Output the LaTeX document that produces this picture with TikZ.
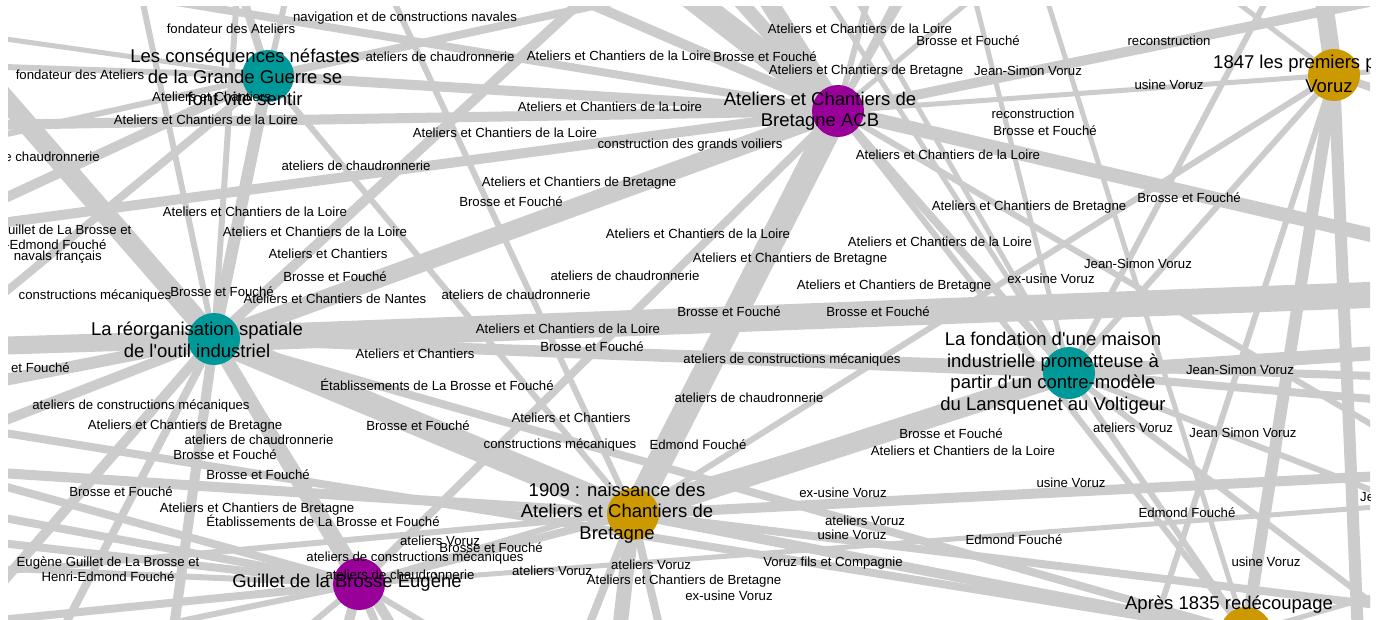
\documentclass[tikz,border=0pt]{standalone}
\usepackage{fontspec}
\setmainfont{Liberation Sans}
\definecolor{edgegrey}{HTML}{CCCCCC}
\definecolor{tealc}{HTML}{009999}
\definecolor{purpc}{HTML}{990099}
\definecolor{goldc}{HTML}{CC9900}
\newcommand{\apo}{\textquotesingle}
\begin{document}
\begin{tikzpicture}[x=1pt,y=-1pt,
  hub/.style={circle, minimum size=52pt, inner sep=0pt, draw=none},
  lnk/.style={draw=edgegrey, line width=#1},
  lbl/.style={font=\fontsize{13.2}{15.5}\selectfont, inner sep=0pt, align=center, text=black},
  big/.style={font=\fontsize{18.5}{21.5}\selectfont, inner sep=0pt, align=center, text=black}]
\useasboundingbox (0,0) rectangle (1381,619);
\fill[white] (0,0) rectangle (1381,619);
\begin{scope}
\clip (8,6) rectangle (1370,619);
% hub centres
\coordinate (c1) at (268,76);
\coordinate (c2) at (838,111);
\coordinate (c3) at (1334,75);
\coordinate (c4) at (214,339);
\coordinate (c5) at (1069,373);
\coordinate (c6) at (633,514);
\coordinate (c7) at (359,584);
\coordinate (c8) at (1246,633);
% off-screen ends
\coordinate (oA) at (-200,-137);
\coordinate (oB) at (1500,290);
\coordinate (oC) at (-200,352);
\coordinate (oD) at (-200,128);
\coordinate (oE) at (1500,265);
\coordinate (oF) at (1500,-25);
\coordinate (oG) at (500,-150);
\coordinate (oH) at (640,-200);
\coordinate (oI) at (350,-100);
\coordinate (oJ) at (900,-120);
\coordinate (oK) at (960,-100);
\coordinate (oL) at (-200,60);
\coordinate (oM) at (180,-200);
\coordinate (oN) at (-150,270);
\coordinate (oO) at (-150,420);
\coordinate (oP) at (1310,-100);
\coordinate (oQ) at (1500,60);
\coordinate (oR) at (1365,800);
\coordinate (oS) at (1130,700);
\coordinate (oT) at (1277,-20);
\coordinate (oU) at (1500,345);
\coordinate (oV) at (1500,410);
\coordinate (oW) at (800,-100);
\coordinate (oX) at (-100,700);
\coordinate (oY) at (600,800);
\coordinate (oZ) at (-200,460);
\coordinate (pA) at (1500,470);
\coordinate (pB) at (300,-200);
\coordinate (pC) at (-200,430);
\coordinate (pD) at (-200,520);
\coordinate (pE) at (-200,640);
\coordinate (pF) at (300,800);
\coordinate (pG) at (450,800);
\coordinate (pH) at (1600,490);
\coordinate (pI) at (-200,400);
\coordinate (pJ) at (1500,560);
\coordinate (qA) at (-200,10);
\coordinate (qB) at (200,-150);
\coordinate (qC) at (320,-150);
\coordinate (qD) at (900,-60);
\coordinate (qE) at (-200,250);
\coordinate (qF) at (-200,-60);
\coordinate (qG) at (-200,420);
\coordinate (qH) at (-200,500);
\coordinate (qI) at (0,750);
\coordinate (qJ) at (150,800);
\coordinate (qK) at (500,800);
\coordinate (qL) at (100,-200);
\coordinate (qM) at (250,-200);
\coordinate (qN) at (800,-200);
\coordinate (qO) at (1500,620);
\coordinate (qP) at (700,800);
\coordinate (qQ) at (520,800);
\coordinate (qR) at (-200,480);
\coordinate (qS) at (720,800);
\coordinate (qT) at (1000,-150);
\coordinate (qU) at (1500,130);
\coordinate (qV) at (950,-100);
\coordinate (qW) at (1500,380);
\coordinate (qX) at (1100,-100);
\coordinate (qY) at (1500,700);
\coordinate (qZ) at (-200,560);
\coordinate (rA) at (560,-200);
\coordinate (rB) at (1000,-200);
\coordinate (rC) at (1150,-150);
\coordinate (rD) at (1500,500);
\coordinate (rE) at (700,-200);
\coordinate (rF) at (-200,700);
\coordinate (rG) at (100,800);
\coordinate (rH) at (-200,180);
\coordinate (rI) at (-200,590);
\coordinate (rJ) at (1500,540);
% edges
\draw[lnk=20] (c4) -- (oA);
\draw[lnk=26] (c4) -- (oB);
\draw[lnk=18] (c4) -- (oC);
\draw[lnk=25] (c2) -- (c6);
\draw[lnk=10] (c2) -- (oD);
\draw[lnk=14] (c2) -- (oE);
\draw[lnk=10] (c2) -- (oF);
\draw[lnk=24] (c2) -- (oG);
\draw[lnk=18] (c2) -- (oH);
\draw[lnk=14] (c2) -- (rA);
\draw[lnk=10] (c2) -- (oI);
\draw[lnk=6] (c2) -- (oJ);
\draw[lnk=6] (c2) -- (oK);
\draw[lnk=6] (c2) -- (rB);
\draw[lnk=5] (c2) -- (rC);
\draw[lnk=6] (c2) -- (rD);
\draw[lnk=10] (c2) -- (c1);
\draw[lnk=5] (c2) -- (c3);
\draw[lnk=18] (c2) -- (c4);
\draw[lnk=8] (c2) -- (c7);
\draw[lnk=8] (c2) -- (c5);
\draw[lnk=6] (c2) -- (c8);
\draw[lnk=10] (c2) -- (qE);
\draw[lnk=8] (c2) -- (qF);
\draw[lnk=6] (c1) -- (oL);
\draw[lnk=5] (c1) -- (qA);
\draw[lnk=6] (c1) -- (rH);
\draw[lnk=8] (c1) -- (oM);
\draw[lnk=6] (c1) -- (qB);
\draw[lnk=6] (c1) -- (qC);
\draw[lnk=8] (c1) -- (qD);
\draw[lnk=12] (c1) -- (c4);
\draw[lnk=6] (c1) -- (c6);
\draw[lnk=10] (c1) -- (oN);
\draw[lnk=8] (c1) -- (oO);
\draw[lnk=12] (c3) -- (c8);
\draw[lnk=18] (c3) -- (oP);
\draw[lnk=5] (c3) -- (oQ);
\draw[lnk=12] (c3) -- (oR);
\draw[lnk=6] (c3) -- (oS);
\draw[lnk=6] (c3) -- (c5);
\draw[lnk=8] (c3) -- (qU);
\draw[lnk=6] (c3) -- (c6);
\draw[lnk=5] (c3) -- (qX);
\draw[lnk=6] (c5) -- (oT);
\draw[lnk=14] (c5) -- (oU);
\draw[lnk=8] (c5) -- (oV);
\draw[lnk=5] (c5) -- (oW);
\draw[lnk=5] (c5) -- (qV);
\draw[lnk=5] (c5) -- (rE);
\draw[lnk=6] (c5) -- (rJ);
\draw[lnk=10] (c5) -- (c4);
\draw[lnk=20] (c5) -- (c6);
\draw[lnk=6] (c5) -- (c8);
\draw[lnk=6] (c5) -- (c7);
\draw[lnk=6] (c5) -- (qY);
\draw[lnk=24] (c6) -- (c4);
\draw[lnk=8] (c6) -- (c7);
\draw[lnk=10] (c6) -- (c8);
\draw[lnk=15] (c6) -- (oY);
\draw[lnk=10] (c6) -- (oZ);
\draw[lnk=6] (c6) -- (rI);
\draw[lnk=10] (c6) -- (pA);
\draw[lnk=8] (c6) -- (qO);
\draw[lnk=6] (c6) -- (pB);
\draw[lnk=8] (c6) -- (qP);
\draw[lnk=8] (c6) -- (qQ);
\draw[lnk=14] (c7) -- (c4);
\draw[lnk=8] (c7) -- (pC);
\draw[lnk=8] (c7) -- (pD);
\draw[lnk=8] (c7) -- (pE);
\draw[lnk=8] (c7) -- (qR);
\draw[lnk=6] (c7) -- (rF);
\draw[lnk=6] (c7) -- (rG);
\draw[lnk=10] (c7) -- (pF);
\draw[lnk=8] (c7) -- (pG);
\draw[lnk=5] (c7) -- (pH);
\draw[lnk=6] (c7) -- (qS);
\draw[lnk=6] (c7) -- (qZ);
\draw[lnk=8] (c8) -- (pI);
\draw[lnk=5] (c8) -- (pJ);
\draw[lnk=5] (c8) -- (qT);
\draw[lnk=8] (c8) -- (c4);
\draw[lnk=10] (c4) -- (oX);
\draw[lnk=12] (c4) -- (qG);
\draw[lnk=10] (c4) -- (qH);
\draw[lnk=8] (c4) -- (qI);
\draw[lnk=10] (c4) -- (qJ);
\draw[lnk=10] (c4) -- (qK);
\draw[lnk=6] (c4) -- (qL);
\draw[lnk=6] (c4) -- (qM);
\draw[lnk=10] (c4) -- (qN);
\draw[lnk=8] (c4) -- (qW);
% hubs
\node[hub, fill=tealc] (n1) at (c1) {};
\node[hub, fill=purpc] (n2) at (c2) {};
\node[hub, fill=goldc] (n3) at (c3) {};
\node[hub, fill=tealc] (n4) at (c4) {};
\node[hub, fill=tealc] (n5) at (c5) {};
\node[hub, fill=goldc] (n6) at (c6) {};
\node[hub, fill=purpc] (n7) at (c7) {};
\node[hub, fill=goldc] (n8) at (c8) {};
% edge labels
\node[lbl] (l1) at (231,29) {fondateur des Ateliers};
\node[lbl] (l2) at (405,18) {navigation et de constructions navales};
\node[lbl] (l3) at (860,29) {Ateliers et Chantiers de la Loire};
\node[lbl] (l4) at (968,41) {Brosse et Fouché};
\node[lbl] (l5) at (1169,41) {reconstruction};
\node[lbl] (l6) at (440,57) {ateliers de chaudronnerie};
\node[lbl] (l7) at (619,56) {Ateliers et Chantiers de la Loire};
\node[lbl] (l8) at (765,57) {Brosse et Fouché};
\node[lbl] (l9) at (866,71) {Ateliers et Chantiers de Bretagne};
\node[lbl] (l10) at (1028,71) {Jean-Simon Voruz};
\node[lbl] (l11) at (80,75) {fondateur des Ateliers};
\node[lbl] (l12) at (1169,85) {usine Voruz};
\node[lbl, anchor=west] (l13) at (152,97) {Ateliers et Chantiers};
\node[lbl] (l14) at (610,107) {Ateliers et Chantiers de la Loire};
\node[lbl] (l15) at (1033,114) {reconstruction};
\node[lbl] (l16) at (206,120) {Ateliers et Chantiers de la Loire};
\node[lbl] (l17) at (505,133) {Ateliers et Chantiers de la Loire};
\node[lbl] (l18) at (1045,131) {Brosse et Fouché};
\node[lbl] (l19) at (690,145) {construction des grands voiliers};
\node[lbl] (l20) at (948,155) {Ateliers et Chantiers de la Loire};
\node[lbl, anchor=east] (l21) at (100,157) {ateliers de chaudronnerie};
\node[lbl] (l22) at (356,166) {ateliers de chaudronnerie};
\node[lbl] (l23) at (579,183) {Ateliers et Chantiers de Bretagne};
\node[lbl] (l24) at (511,202) {Brosse et Fouché};
\node[lbl] (l25) at (1189,198) {Brosse et Fouché};
\node[lbl] (l26) at (1029,207) {Ateliers et Chantiers de Bretagne};
\node[lbl] (l27) at (255,212) {Ateliers et Chantiers de la Loire};
\node[lbl] (l28) at (698,234) {Ateliers et Chantiers de la Loire};
\node[lbl] (l29) at (940,242) {Ateliers et Chantiers de la Loire};
\node[lbl] (l30) at (315,232) {Ateliers et Chantiers de la Loire};
\node[lbl] (l31) at (40,237) {Eugène Guillet de La Brosse et\\Henri-Edmond Fouché};
\node[lbl, anchor=east] (l32) at (102,257) {navals français};
\node[lbl] (l33) at (328,254) {Ateliers et Chantiers};
\node[lbl] (l34) at (625,276) {ateliers de chaudronnerie};
\node[lbl] (l35) at (335,277) {Brosse et Fouché};
\node[lbl] (l36) at (790,259) {Ateliers et Chantiers de Bretagne};
\node[lbl] (l37) at (1138,264) {Jean-Simon Voruz};
\node[lbl] (l38) at (1051,279) {ex-usine Voruz};
\node[lbl] (l39) at (894,286) {Ateliers et Chantiers de Bretagne};
\node[lbl] (l40) at (95,296) {constructions mécaniques};
\node[lbl] (l41) at (222,292) {Brosse et Fouché};
\node[lbl] (l42) at (335,299) {Ateliers et Chantiers de Nantes};
\node[lbl] (l43) at (516,295) {ateliers de chaudronnerie};
\node[lbl] (l44) at (729,312) {Brosse et Fouché};
\node[lbl] (l45) at (878,312) {Brosse et Fouché};
\node[lbl] (l46) at (568,329) {Ateliers et Chantiers de la Loire};
\node[lbl] (l47) at (592,347) {Brosse et Fouché};
\node[lbl] (l48) at (415,354) {Ateliers et Chantiers};
\node[lbl] (l49) at (792,360) {ateliers de constructions mécaniques};
\node[lbl, anchor=east] (l50) at (70,368) {Brosse et Fouché};
\node[lbl] (l51) at (1240,370) {Jean-Simon Voruz};
\node[lbl] (l52) at (437,385) {Établissements de La Brosse et Fouché};
\node[lbl] (l53) at (749,398) {ateliers de chaudronnerie};
\node[lbl] (l54) at (141,406) {ateliers de constructions mécaniques};
\node[lbl] (l55) at (571,418) {Ateliers et Chantiers};
\node[lbl] (l56) at (418,426) {Brosse et Fouché};
\node[lbl] (l57) at (185,426) {Ateliers et Chantiers de Bretagne};
\node[lbl] (l58) at (259,440) {ateliers de chaudronnerie};
\node[lbl] (l59) at (560,445) {constructions mécaniques};
\node[lbl] (l60) at (698,445) {Edmond Fouché};
\node[lbl] (l61) at (1133,428) {ateliers Voruz};
\node[lbl] (l62) at (1243,433) {Jean Simon Voruz};
\node[lbl] (l63) at (951,434) {Brosse et Fouché};
\node[lbl] (l64) at (963,451) {Ateliers et Chantiers de la Loire};
\node[lbl] (l65) at (225,455) {Brosse et Fouché};
\node[lbl] (l66) at (258,475) {Brosse et Fouché};
\node[lbl] (l67) at (1071,483) {usine Voruz};
\node[lbl] (l68) at (121,492) {Brosse et Fouché};
\node[lbl] (l69) at (843,493) {ex-usine Voruz};
\node[lbl] (l70) at (257,509) {Ateliers et Chantiers de Bretagne};
\node[lbl] (l71) at (323,521) {Établissements de La Brosse et Fouché};
\node[lbl] (l72) at (1187,513) {Edmond Fouché};
\node[lbl] (l73) at (865,521) {ateliers Voruz};
\node[lbl] (l74) at (440,541) {ateliers Voruz};
\node[lbl] (l75) at (491,548) {Brosse et Fouché};
\node[lbl] (l76) at (852,535) {usine Voruz};
\node[lbl] (l77) at (1014,540) {Edmond Fouché};
\node[lbl, anchor=west] (l78) at (1360,497) {Jean-Simon Voruz};
\node[lbl] (l79) at (415,558) {ateliers de constructions mécaniques};
\node[lbl] (l80) at (833,563) {Voruz fils et Compagnie};
\node[lbl] (l81) at (651,565) {ateliers Voruz};
\node[lbl] (l82) at (552,571) {ateliers Voruz};
\node[lbl] (l83) at (400,575) {ateliers de chaudronnerie};
\node[lbl] (l84) at (108,569) {Eugène Guillet de La Brosse et\\Henri-Edmond Fouché};
\node[lbl] (l85) at (1266,562) {usine Voruz};
\node[lbl] (l86) at (684,581) {Ateliers et Chantiers de Bretagne};
\node[lbl] (l87) at (729,596) {ex-usine Voruz};
% hub labels
\node[big] (t1) at (245,77) {Les conséquences néfastes\\de la Grande Guerre se\\font vite sentir};
\node[big] (t2) at (820,111) {Ateliers et Chantiers de\\Bretagne ACB};
\node[big, anchor=west] (t3) at (1213,64) {1847 les premiers pas};
\node[big] (t3b) at (1329,86) {Voruz};
\node[big] (t4) at (197,340) {La réorganisation spatiale\\de l\apo outil industriel};
\node[big] (t5) at (1053,373) {La fondation d\apo une maison\\industrielle prometteuse à\\partir d\apo un contre-modèle\\du Lansquenet au Voltigeur};
\node[big] (t6) at (617,513) {1909 : naissance des\\Ateliers et Chantiers de\\Bretagne};
\node[big] (t7) at (347,583) {Guillet de la Brosse Eugène};
\node[big] (t8) at (1229,605) {Après 1835 redécoupage};
\end{scope}
\end{tikzpicture}
\end{document}
